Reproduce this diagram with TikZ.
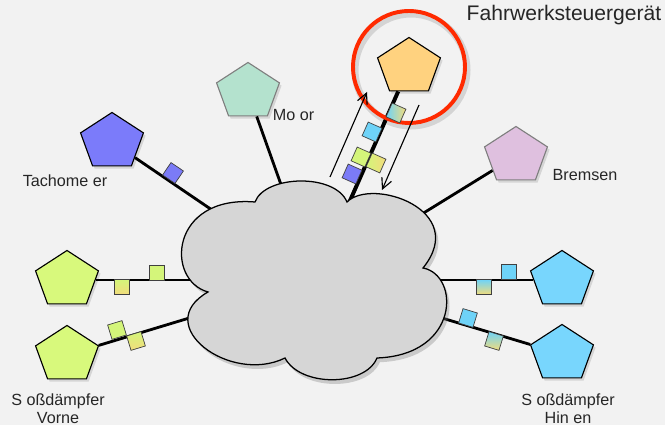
\documentclass[tikz,border=0pt]{standalone}
\usepackage{fontspec}
\setmainfont{Liberation Sans}
\usetikzlibrary{arrows.meta,positioning,shapes.geometric,calc,shadows}
\definecolor{Paper}{HTML}{F2F2F2}
\definecolor{Cloud}{HTML}{D6D6D6}
\definecolor{Tacho}{HTML}{7B7BFA}
\definecolor{Mint}{HTML}{B4E2CE}
\definecolor{Orange}{HTML}{FFD27F}
\definecolor{Lilac}{HTML}{DFC0DF}
\definecolor{Lime}{HTML}{D8F97C}
\definecolor{Sky}{HTML}{78D6FD}
\definecolor{Frame}{HTML}{7F7F7F}
\definecolor{Signal}{HTML}{FF2A00}
\definecolor{MsgBlue}{HTML}{6ED3F8}
\definecolor{MsgGreen}{HTML}{D4F57A}
\definecolor{MsgYellow}{HTML}{F2DC7C}
\definecolor{MsgPurple}{HTML}{7B7BF7}

\begin{document}
\begin{tikzpicture}[x=0.025cm,y=0.025cm,
  ecu/.style={regular polygon,regular polygon sides=5,minimum size=1.475cm,xscale=1.12,inner sep=0pt,draw=black,line width=0.8pt,drop shadow={shadow xshift=1.5pt,shadow yshift=-2pt,opacity=0.25}},
  msg/.style={rectangle,minimum size=0.375cm,inner sep=0pt,draw=black!75,line width=0.5pt},
  bus/.style={line width=2pt,draw=black},
  lbl/.style={font=\fontsize{11.5}{12.8}\selectfont,align=center,text=black!85},
  flow/.style={-{Straight Barb[length=2.6mm,width=2.6mm]},line width=0.8pt}
]
\fill[Paper] (0,0) rectangle (665,425);
\useasboundingbox (0,0) rectangle (665,425);
\coordinate (net) at (315,145);

\node[ecu,fill=Tacho] (tacho) at (112,283) {};
\node[ecu,fill=Mint,draw=Frame] (motor) at (248,333) {};
\node[ecu,fill=Orange] (fahr) at (409,358) {};
\node[ecu,fill=Lilac,draw=Frame] (brake) at (516,269) {};
\node[ecu,fill=Lime] (frontA) at (67,145) {};
\node[ecu,fill=Lime] (frontB) at (67,70) {};
\node[ecu,fill=Sky] (rearA) at (562,145) {};
\node[ecu,fill=Sky] (rearB) at (562,71) {};

\foreach \n in {tacho,motor,brake,frontA,frontB,rearA,rearB}
  \draw[bus] (\n) -- (net);
\draw[bus,line width=2.8pt] (fahr) -- (net);

\draw[black,opacity=0.12,line width=5pt] ([shift={(2,-3)}]fahr.center) circle[radius=56];
\draw[Signal,line width=2.8pt] (fahr.center) circle[radius=56];

\node[msg,fill=MsgPurple,rotate=-34] (mTacho) at (173,252) {};
\node[msg,left color=MsgBlue,right color=MsgYellow,rotate=66] (mFahrA) at (396,312) {};
\node[msg,fill=MsgBlue,rotate=66] (mFahrB) at (372,293) {};
\node[msg,fill=MsgGreen,rotate=66] (mFahrC) at (361,268) {};
\node[msg,left color=MsgGreen,right color=MsgYellow,rotate=66] (mFahrD) at (376,262) {};
\node[msg,fill=MsgPurple,rotate=66] (mFahrE) at (352,251) {};
\node[msg,fill=MsgGreen] (mFrontA) at (157,152) {};
\node[msg,top color=MsgGreen,bottom color=MsgYellow] (mFrontB) at (122,138) {};
\node[msg,fill=MsgGreen,rotate=17] (mFrontC) at (117,95) {};
\node[msg,top color=MsgGreen,bottom color=MsgYellow,rotate=17] (mFrontD) at (136,84) {};
\node[msg,fill=MsgBlue] (mRearA) at (509,153) {};
\node[msg,top color=MsgBlue,bottom color=MsgYellow] (mRearB) at (484,138) {};
\node[msg,fill=MsgBlue,rotate=-17] (mRearC) at (468,107) {};
\node[msg,top color=MsgBlue,bottom color=MsgYellow,rotate=-17] (mRearD) at (494,84) {};

\draw[fill=Cloud,line width=0.9pt,drop shadow={shadow xshift=2pt,shadow yshift=-3pt,opacity=0.35}]
  (208,133) .. controls (165,145) and (170,230) .. (255,223)
  .. controls (265,250) and (335,252) .. (347,223)
  .. controls (372,248) and (470,215) .. (423,157)
  .. controls (460,150) and (460,70) .. (377,67)
  .. controls (365,38) and (300,38) .. (285,67)
  .. controls (230,40) and (150,100) .. cycle;

\coordinate (upFrom) at (330,248);
\coordinate (upTo) at (367,333);
\coordinate (downFrom) at (419,320);
\coordinate (downTo) at (382,235);
\draw[flow] (upFrom) -- (upTo);
\draw[flow] (downFrom) -- (downTo);

\node[lbl,font=\fontsize{15}{18}\selectfont] (title) at (564,410) {Fahrwerksteuergerät};
\node[lbl] (tachoLbl) at (65,244) {Tachome er};
\node[lbl,anchor=west] (motorLbl) at (268,310) {Mo or};
\node[lbl] (brakeLbl) at (585,250) {Bremsen};
\node[lbl] (frontLbl) at (58,16) {S oßdämpfer\\Vorne};
\node[lbl] (rearLbl) at (568,16) {S oßdämpfer\\Hin en};
\end{tikzpicture}
\end{document}
